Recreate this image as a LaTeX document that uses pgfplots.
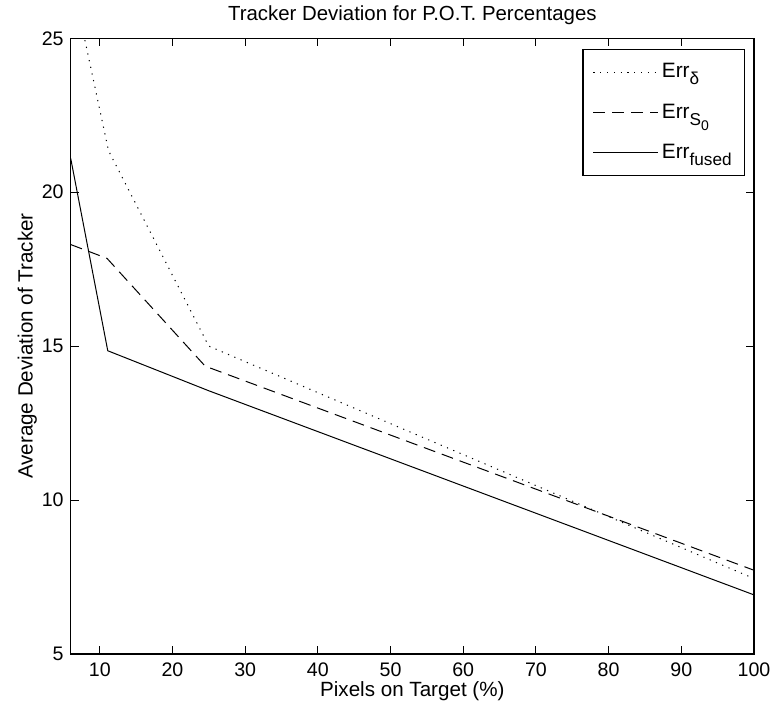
\documentclass[border=0pt]{standalone}
\usepackage{pgfplots}
\pgfplotsset{compat=1.18}
\usepackage{fontspec}
\setmainfont{Liberation Sans}
% MATLAB-like subscripts: nearly full size, lowered well below the baseline
\newcommand{\sub}[1]{\raisebox{-3.5pt}{\fontsize{8.6}{10}\selectfont #1}}
\newcommand{\subsub}[1]{\raisebox{-2.5pt}{\fontsize{7}{8}\selectfont #1}}

\begin{document}
\begin{tikzpicture}
\begin{axis}[
    at={(0,0)}, anchor=south west,
    scale only axis,
    width=341.65pt, height=307.85pt,
    xmin=6, xmax=100, ymin=5, ymax=25,
    xtick={10,20,...,100}, ytick={5,10,...,25},
    tick align=inside, major tick length=4pt,
    axis line style={line width=0.6pt},
    every tick/.style={black, line width=0.5pt},
    font=\fontsize{9.8}{12}\selectfont,
    /pgf/number format/assume math mode=true,
    xticklabel style={yshift=-1pt},
    title={Tracker Deviation for P.O.T. Percentages},
    every axis title/.style={at={(0.5,1)}, anchor=base, yshift=8.8pt,
        font=\fontsize{10.2}{12}\selectfont},
    xlabel={Pixels on Target (\%)},
    every axis x label/.style={at={(0.5,0)}, anchor=base, yshift=-21.5pt,
        inner sep=0pt, font=\fontsize{10.3}{12}\selectfont},
    ylabel={Average Deviation of Tracker},
    every axis y label/.style={at={(-0.0556,0.5)}, anchor=base, rotate=90,
        font=\fontsize{10.3}{12}\selectfont},
    legend cell align=left,
    legend style={at={(0.9873,0.9826)}, anchor=north east,
        draw=black, line width=0.6pt, inner xsep=5pt, inner ysep=7pt,
        row sep=11.5pt, font=\fontsize{10.4}{12}\selectfont,
        nodes={inner xsep=1.5pt, inner ysep=0pt}},
    legend image code/.code={\draw[#1, line width=0.5pt] (0pt,0pt) -- (32.5pt,0pt);},
]
\addplot[black, line width=0.5pt, dash pattern=on 0.6pt off 2.8pt] coordinates {
    (6,27.1) (11.2,21.35) (25,15.0) (100,7.45)
};
\addlegendentry{Err\sub{δ}}
\addplot[black, line width=0.5pt, dash pattern=on 6pt off 3.5pt] coordinates {
    (6,18.3) (11,17.85) (24.5,14.35) (100,7.72)
};
\addlegendentry{Err\sub{S\subsub{0}}}
\addplot[black, line width=0.5pt] coordinates {
    (6,21.1) (11.1,14.85) (25,13.55) (100,6.92)
};
\addlegendentry{Err\sub{fused}}
\end{axis}
\pgfresetboundingbox
\path (-35.35pt,-28pt) rectangle (350.15pt,327pt);
\end{tikzpicture}
\end{document}
